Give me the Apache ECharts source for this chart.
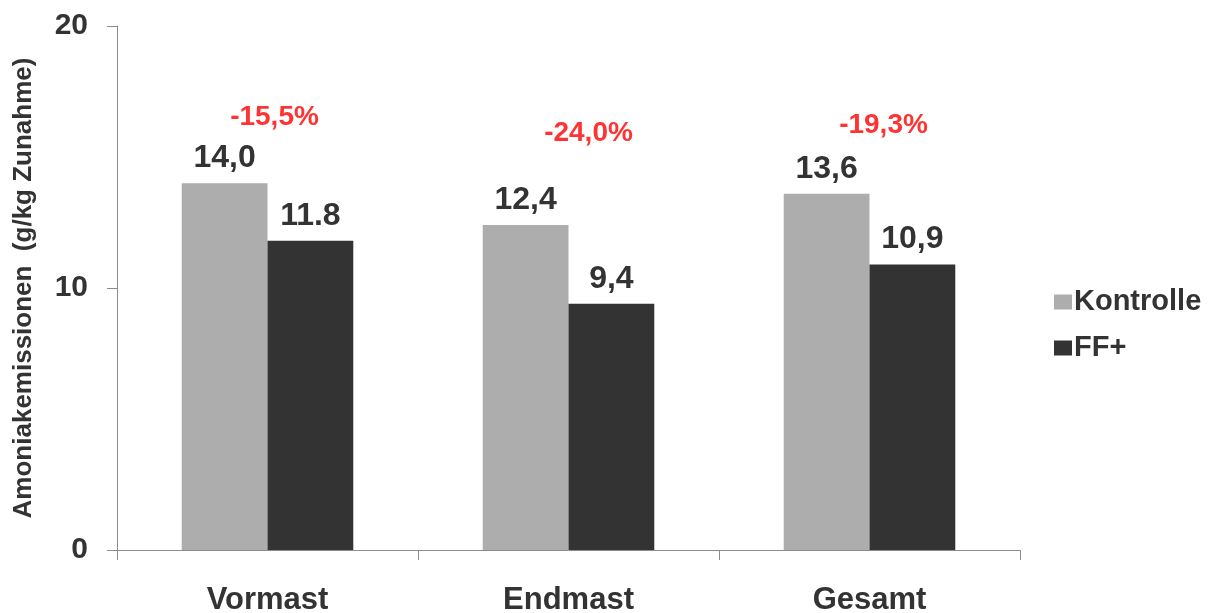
<!DOCTYPE html>
<html>
<head>
<meta charset="utf-8">
<script src="https://cdn.jsdelivr.net/npm/echarts@6/dist/echarts.min.js"></script>
<style>html,body{margin:0;padding:0;background:#fff;}#c{width:1211px;height:613px;}</style>
</head>
<body>
<div id="c"></div>
<script>
var categories = ['Vormast', 'Endmast', 'Gesamt'];
var kontrolle = [14.0, 12.4, 13.6];
var ffplus = [11.8, 9.4, 10.9];
var kontrolleLabels = ['14,0', '12,4', '13,6'];
var ffplusLabels = ['11.8', '9,4', '10,9'];
var diffLabels = ['-15,5%', '-24,0%', '-19,3%'];
var diffLevels = [16.5, 15.9, 16.2];
var diffOffsets = [7, 20, 14];
var yTicks = [0, 10, 20];

var FONT = '"Liberation Sans", Arial, sans-serif';
var chart = echarts.init(document.getElementById('c'));
chart.setOption({
  animation: false,
  textStyle: {fontFamily: FONT},
  grid: {left: 117, right: 191, top: 26, bottom: 63, containLabel: false, outerBoundsMode: 'none'},
  legend: {
    orient: 'vertical', left: 1049, top: 282,
    itemWidth: 18, itemHeight: 15, itemGap: 16,
    icon: 'rect',
    data: ['Kontrolle', 'FF+'],
    textStyle: {fontFamily: FONT, fontSize: 29, fontWeight: 'bold', color: '#333', lineHeight: 30, padding: [0, 0, 0, -3]}
  },
  xAxis: {
    type: 'category', data: categories,
    axisLine: {lineStyle: {color: '#8c8c8c', width: 1}},
    axisTick: {show: true, length: 10, lineStyle: {color: '#8c8c8c'}},
    axisLabel: {fontFamily: FONT, fontSize: 31, fontWeight: 'bold', color: '#333', margin: 35}
  },
  yAxis: {
    type: 'value', min: 0, max: 20, interval: 10,
    name: 'Amoniakemissionen  (g/kg Zunahme)',
    nameLocation: 'middle', nameGap: 80, nameRotate: 90,
    nameTextStyle: {fontFamily: FONT, fontSize: 26, fontWeight: 'bold', color: '#333'},
    splitLine: {show: false},
    axisLine: {show: true, lineStyle: {color: '#8c8c8c', width: 1}},
    axisTick: {show: true, length: 10, lineStyle: {color: '#8c8c8c'}},
    axisLabel: {fontFamily: FONT, fontSize: 30, fontWeight: 'bold', color: '#333', margin: 29,
      formatter: function (v) { return yTicks.indexOf(v) >= 0 ? String(v) : ''; }}
  },
  series: [
    {
      name: 'Kontrolle', type: 'bar', data: kontrolle,
      barGap: '0%', barCategoryGap: '43%',
      itemStyle: {color: '#adadad'},
      label: {show: true, position: 'top', distance: 9, fontFamily: FONT, fontSize: 32, fontWeight: 'bold', color: '#333',
        formatter: function (p) { return kontrolleLabels[p.dataIndex]; }}
    },
    {
      name: 'FF+', type: 'bar', data: ffplus,
      itemStyle: {color: '#333333'},
      label: {show: true, position: 'top', distance: 9, fontFamily: FONT, fontSize: 32, fontWeight: 'bold', color: '#333',
        formatter: function (p) { return ffplusLabels[p.dataIndex]; }}
    },
    {
      name: 'diff', type: 'scatter', symbolSize: 0, silent: true,
      data: diffLevels.map(function (v, i) {
        return {value: [categories[i], v], label: {offset: [diffOffsets[i], 0]}};
      }),
      label: {show: true, position: 'inside', fontFamily: FONT, fontSize: 28, fontWeight: 'bold', color: '#ff0000',
        formatter: function (p) { return diffLabels[p.dataIndex]; }}
    }
  ]
});
</script>
</body>
</html>
